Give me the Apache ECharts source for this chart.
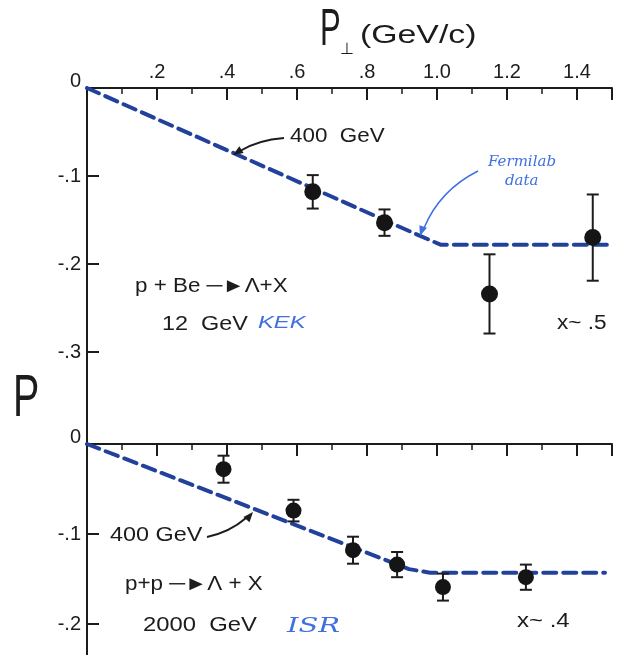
<!DOCTYPE html>
<html>
<head>
<meta charset="utf-8">
<script src="https://cdn.jsdelivr.net/npm/echarts@6/dist/echarts.min.js"></script>
<style>
html,body{margin:0;padding:0;background:#fff;}
#main{width:620px;height:655px;}
</style>
</head>
<body>
<div id="main"></div>
<script>
// 上图 p+Be (KEK 12 GeV)
var topX = [0.645, 0.85, 1.15, 1.445];
var topP = [-0.118, -0.153, -0.234, -0.170];
var topErr = [0.019, 0.015, 0.045, 0.049];
var topCurveX = [0, 0.94, 1.01, 1.5];
var topCurveP = [0, -0.166, -0.178, -0.178];

// 下图 p+p (ISR 2000 GeV)
var botX = [0.39, 0.59, 0.76, 0.886, 1.017, 1.254];
var botP = [-0.028, -0.074, -0.118, -0.134, -0.159, -0.148];
var botErr = [0.015, 0.012, 0.015, 0.014, 0.015, 0.014];
var botCurveX = [0, 0.92, 0.98, 1.48];
var botCurveP = [0, -0.139, -0.143, -0.143];

var topTicks = [0, -0.1, -0.2, -0.3];
var botTicks = [0, -0.1, -0.2];

var FONT = 'Liberation Sans';
var INK = '#1c1c1c';
var BLUE = '#3f6fe0';

function pairs(xs, ys){
	return xs.map(function(x, i){ return [x, ys[i]]; });
}
function errData(xs, ys, es){
	return xs.map(function(x, i){ return [x, ys[i] - es[i], ys[i] + es[i]]; });
}

function yAxisOpt(gi, min, ticks){
	return {
		type: 'value', gridIndex: gi, min: min, max: 0,
		axisLine: {show: true, lineStyle: {color: INK, width: 2}},
		axisTick: {show: true, inside: true, length: 12, customValues: ticks, lineStyle: {color: INK, width: 2}},
		axisLabel: {
			customValues: ticks, color: INK, fontFamily: FONT, fontSize: 20, margin: 6,
			formatter: function(v){
				if (Math.abs(v) < 1e-9) return '{z|0}';
				return '-.' + Math.round(-v * 10);
			},
			rich: {z: {fontFamily: FONT, fontSize: 20, color: INK, padding: [0, 0, 14, 0]}}
		},
		splitLine: {show: false}
	};
}

function xAxisOpt(gi, showLabel){
	return {
		type: 'value', gridIndex: gi, position: 'top', min: 0, max: 1.5, interval: 0.2,
		axisLine: {show: true, onZero: false, lineStyle: {color: INK, width: 2}},
		axisTick: {show: true, inside: true, length: 12, lineStyle: {color: INK, width: 2}},
		minorTick: {show: true, splitNumber: 2, length: 6, lineStyle: {color: INK, width: 1.5}},
		axisLabel: {
			show: showLabel, color: INK, fontFamily: FONT, fontSize: 20, margin: 6,
			formatter: function(v){
				if (v < 0.01 || v > 1.45) return '';
				return v < 1 ? '.' + Math.round(v * 10) : v.toFixed(1);
			}
		},
		splitLine: {show: false}
	};
}

function errSeries(xi, yi, data){
	return {
		type: 'custom', xAxisIndex: xi, yAxisIndex: yi, data: data, z: 3,
		renderItem: function(params, api){
			var lo = api.coord([api.value(0), api.value(1)]);
			var hi = api.coord([api.value(0), api.value(2)]);
			var w = 6;
			var st = {stroke: INK, lineWidth: 2};
			return {type: 'group', children: [
				{type: 'line', shape: {x1: lo[0], y1: lo[1], x2: hi[0], y2: hi[1]}, style: st},
				{type: 'line', shape: {x1: lo[0] - w, y1: lo[1], x2: lo[0] + w, y2: lo[1]}, style: st},
				{type: 'line', shape: {x1: hi[0] - w, y1: hi[1], x2: hi[0] + w, y2: hi[1]}, style: st}
			]};
		}
	};
}

function curveSeries(xi, yi, data){
	return {
		type: 'line', xAxisIndex: xi, yAxisIndex: yi, data: data, symbol: 'none', z: 2,
		lineStyle: {color: '#22419c', width: 4, type: [13, 7], cap: 'round'}
	};
}

function dotSeries(xi, yi, data, size){
	return {
		type: 'scatter', xAxisIndex: xi, yAxisIndex: yi, data: data, symbolSize: size, z: 4,
		itemStyle: {color: '#151515', opacity: 1}
	};
}

function txt(x, y, s, size, opts){
	opts = opts || {};
	return {
		type: 'text', x: x, y: y, z: 10,
		scaleX: opts.sx || 1, scaleY: opts.sy || 1,
		style: {
			text: s, fontFamily: opts.family || FONT, fontSize: size,
			fontStyle: opts.italic ? 'italic' : 'normal',
			fill: opts.color || INK, verticalAlign: 'middle', align: 'left'
		}
	};
}

function arrow(pts, tip, color, lw){
	// pts: bezier control points, tip: [x,y,angle]
	var a = tip[2], L = 10, W = 4;
	var bx = tip[0] - L * Math.cos(a), by = tip[1] - L * Math.sin(a);
	return [
		{type: 'bezierCurve', z: 10, shape: {x1: pts[0][0], y1: pts[0][1], cpx1: pts[1][0], cpy1: pts[1][1], x2: pts[2][0], y2: pts[2][1]},
			style: {stroke: color, lineWidth: lw, fill: null}},
		{type: 'polygon', z: 10, shape: {points: [[tip[0], tip[1]],
			[bx - W * Math.sin(a), by + W * Math.cos(a)],
			[bx + W * Math.sin(a), by - W * Math.cos(a)]]},
			style: {fill: color}}
	];
}

var myChart = echarts.init(document.getElementById('main'));

var graphics = [
	// 轴标题
	txt(320, 31, 'P', 50, {sx: 0.62, sy: 1.02}),
	txt(340, 50, '\u22a5', 16),
	txt(360, 36, '(GeV/c)', 26, {sx: 1.3}),
	txt(13, 400, 'P', 58, {sx: 0.68, sy: 1.02}),
	// 上图注释
	txt(290, 136, '400  GeV', 20, {sx: 1.12}),
	txt(488, 162, 'Fermilab', 15, {italic: true, color: BLUE, family: 'DejaVu Serif'}),
	txt(505, 181, 'data', 15, {italic: true, color: BLUE, family: 'DejaVu Serif'}),
	txt(135, 286, 'p + Be \u2500\u25ba\u039b+X', 20, {sx: 1.12}),
	txt(162, 324, '12  GeV', 20, {sx: 1.17}),
	txt(258, 323, 'KEK', 17, {italic: true, color: BLUE, sx: 1.4}),
	txt(557, 323, 'x~ .5', 20, {sx: 1.13}),
	// 下图注释
	txt(110, 535, '400 GeV', 20, {sx: 1.17}),
	txt(125, 584, 'p+p \u2500\u25ba\u039b + X', 20, {sx: 1.12}),
	txt(143, 625, '2000  GeV', 20, {sx: 1.19}),
	txt(287, 627, 'ISR', 20, {italic: true, color: BLUE, family: 'DejaVu Serif', sx: 1.45}),
	txt(517, 621, 'x~ .4', 20, {sx: 1.2})
];
graphics = graphics
	.concat(arrow([[284, 138], [258, 140], [240, 151]], [233, 155, Math.atan2(5, -8)], INK, 2))
	.concat(arrow([[207, 537], [230, 532], [246, 518]], [253, 512, Math.atan2(-7, 6)], INK, 2))
	.concat(arrow([[478, 171], [440, 190], [424, 228]], [420, 236, Math.atan2(9, -3)], BLUE, 1.5));

var option = {
	backgroundColor: '#fff',
	animation: false,
	grid: [
		{left: 87, top: 88, width: 525, height: 356},
		{left: 87, top: 444, width: 525, height: 211}
	],
	xAxis: [xAxisOpt(0, true), xAxisOpt(1, false)],
	yAxis: [yAxisOpt(0, -356 / 880, topTicks), yAxisOpt(1, -211 / 900, botTicks)],
	series: [
		curveSeries(0, 0, pairs(topCurveX, topCurveP)),
		errSeries(0, 0, errData(topX, topP, topErr)),
		dotSeries(0, 0, pairs(topX, topP), 17),
		curveSeries(1, 1, pairs(botCurveX, botCurveP)),
		errSeries(1, 1, errData(botX, botP, botErr)),
		dotSeries(1, 1, pairs(botX, botP), 16)
	],
	graphic: graphics
};

myChart.setOption(option);
</script>
</body>
</html>
